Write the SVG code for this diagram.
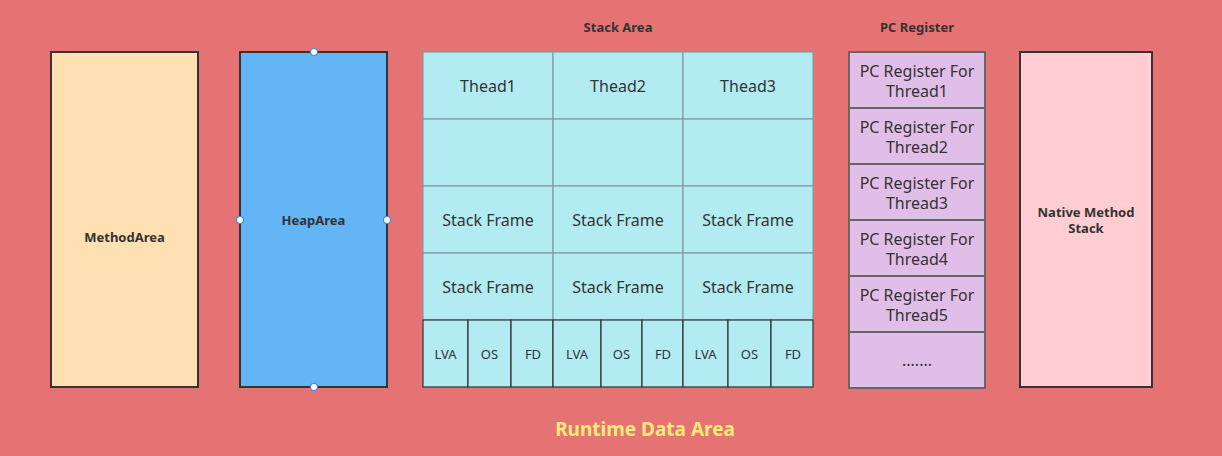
<svg xmlns="http://www.w3.org/2000/svg" width="1222" height="456" viewBox="0 0 1222 456">
<style>
.lbl{font-family:"Noto Sans","Open Sans",sans-serif;font-weight:bold;font-size:13px;fill:#333;text-anchor:middle}
.cell{fill:#B2EBF2;stroke:#7F9EA2;stroke-width:1.2}
.sub{fill:#B2EBF2;stroke:#333;stroke-width:1.2}
.t16{font-family:"Noto Sans","Open Sans",sans-serif;font-size:16px;fill:#333;text-anchor:middle}
.t13{font-family:"Noto Sans","Open Sans",sans-serif;font-size:13px;fill:#333;text-anchor:middle}
.pc{fill:#E1BEE7;stroke:#666;stroke-width:2}
.h{fill:#fff;stroke:#3B8BE8;stroke-width:1.2}
</style>
<rect x="0" y="0" width="1222" height="456" fill="#E57373"/>
<g id="method-area">
<rect x="51" y="52" width="147" height="335" fill="#FFE0B2" stroke="#333" stroke-width="2"/>
<text class="lbl" x="124.5" y="241.5">MethodArea</text>
</g>
<g id="heap-area">
<rect x="240" y="52" width="147" height="335" fill="#64B5F6" stroke="#333" stroke-width="2"/>
<text class="lbl" x="313.5" y="224.5">HeapArea</text>
<circle class="h" cx="314" cy="52" r="3.5"/>
<circle class="h" cx="240" cy="220" r="3.5"/>
<circle class="h" cx="387" cy="220" r="3.5"/>
<circle class="h" cx="314" cy="387" r="3.5"/>
</g>
<g id="stack-area">
<text class="lbl" x="618" y="31.5">Stack Area</text>
<rect class="cell" x="423" y="52" width="130" height="67"/>
<rect class="cell" x="553" y="52" width="130" height="67"/>
<rect class="cell" x="683" y="52" width="130" height="67"/>
<rect class="cell" x="423" y="119" width="130" height="67"/>
<rect class="cell" x="553" y="119" width="130" height="67"/>
<rect class="cell" x="683" y="119" width="130" height="67"/>
<rect class="cell" x="423" y="186" width="130" height="67"/>
<rect class="cell" x="553" y="186" width="130" height="67"/>
<rect class="cell" x="683" y="186" width="130" height="67"/>
<rect class="cell" x="423" y="253" width="130" height="67"/>
<rect class="cell" x="553" y="253" width="130" height="67"/>
<rect class="cell" x="683" y="253" width="130" height="67"/>
<text class="t16" x="488" y="91.5">Thead1</text>
<text class="t16" x="618" y="91.5">Thead2</text>
<text class="t16" x="748" y="91.5">Thead3</text>
<text class="t16" x="488" y="225.5">Stack Frame</text>
<text class="t16" x="618" y="225.5">Stack Frame</text>
<text class="t16" x="748" y="225.5">Stack Frame</text>
<text class="t16" x="488" y="292.5">Stack Frame</text>
<text class="t16" x="618" y="292.5">Stack Frame</text>
<text class="t16" x="748" y="292.5">Stack Frame</text>
<rect class="sub" x="423" y="320" width="45" height="67"/>
<rect class="sub" x="468" y="320" width="43" height="67"/>
<rect class="sub" x="511" y="320" width="42" height="67"/>
<rect class="sub" x="553" y="320" width="48" height="67"/>
<rect class="sub" x="601" y="320" width="41" height="67"/>
<rect class="sub" x="642" y="320" width="41" height="67"/>
<rect class="sub" x="683" y="320" width="45" height="67"/>
<rect class="sub" x="728" y="320" width="43" height="67"/>
<rect class="sub" x="771" y="320" width="42" height="67"/>
<text class="t13" x="445.5" y="358.5">LVA</text>
<text class="t13" x="489.5" y="358.5">OS</text>
<text class="t13" x="533" y="358.5">FD</text>
<text class="t13" x="577" y="358.5">LVA</text>
<text class="t13" x="621.5" y="358.5">OS</text>
<text class="t13" x="663" y="358.5">FD</text>
<text class="t13" x="705.5" y="358.5">LVA</text>
<text class="t13" x="749.5" y="358.5">OS</text>
<text class="t13" x="793" y="358.5">FD</text>
</g>
<g id="pc-register">
<text class="lbl" x="917" y="31.5">PC Register</text>
<rect class="pc" x="849" y="52" width="136" height="56"/>
<rect class="pc" x="849" y="108" width="136" height="56"/>
<rect class="pc" x="849" y="164" width="136" height="56"/>
<rect class="pc" x="849" y="220" width="136" height="56"/>
<rect class="pc" x="849" y="276" width="136" height="56"/>
<rect class="pc" x="849" y="332" width="136" height="56"/>
<text class="t16" x="917" y="76.5">PC Register For</text>
<text class="t16" x="917" y="96.5">Thread1</text>
<text class="t16" x="917" y="132.5">PC Register For</text>
<text class="t16" x="917" y="152.5">Thread2</text>
<text class="t16" x="917" y="188.5">PC Register For</text>
<text class="t16" x="917" y="208.5">Thread3</text>
<text class="t16" x="917" y="244.5">PC Register For</text>
<text class="t16" x="917" y="264.5">Thread4</text>
<text class="t16" x="917" y="300.5">PC Register For</text>
<text class="t16" x="917" y="320.5">Thread5</text>
<text class="t16" x="917" y="366">.......</text>
</g>
<g id="native-method-stack">
<rect x="1020" y="52" width="132" height="335" fill="#FFCDD2" stroke="#333" stroke-width="2"/>
<text class="lbl" x="1086" y="216.5">Native Method</text>
<text class="lbl" x="1086" y="232.5">Stack</text>
</g>
<g id="connectors"></g>
<text x="645" y="435.5" font-family="Noto Sans, Open Sans, sans-serif" font-weight="bold" font-size="19" fill="#FFEB78" text-anchor="middle">Runtime Data Area</text>
</svg>
